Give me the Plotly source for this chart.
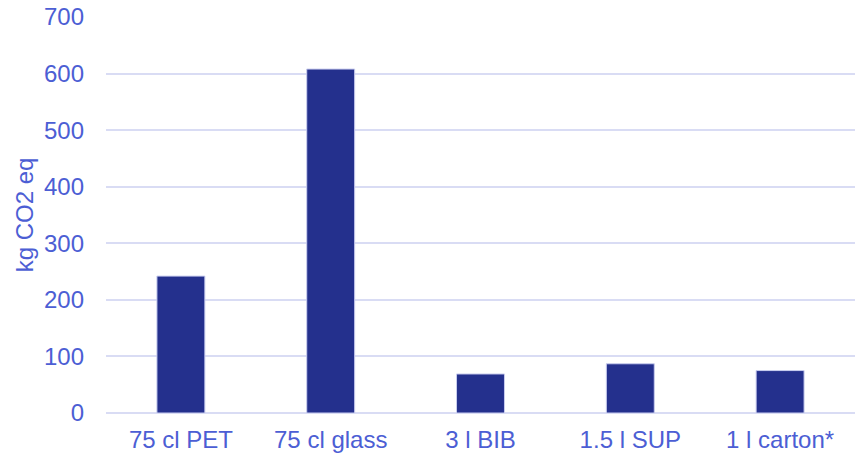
import plotly.graph_objects as go

packaging = ["75 cl PET", "75 cl glass", "3 l BIB", "1.5 l SUP", "1 l carton*"]
emissions = [242, 608, 69, 87, 75]
y_ticks = [0, 100, 200, 300, 400, 500, 600, 700]

text_color = "#4c5ed4"
grid_color = "#d9dcf4"
font_size = 24

fig = go.Figure(
    go.Bar(
        x=packaging,
        y=emissions,
        width=0.32,
        marker=dict(color="#24308d", line=dict(color="#c9cdef", width=1)),
    )
)

fig.update_layout(
    width=855,
    height=457,
    margin=dict(l=106, r=0, t=17, b=44),
    plot_bgcolor="white",
    paper_bgcolor="white",
    font=dict(family="Liberation Sans, Arial, sans-serif", size=font_size, color=text_color),
    showlegend=False,
)

fig.update_xaxes(
    showgrid=False,
    showline=False,
    ticks="",
    ticklabelstandoff=10,
    tickfont=dict(size=font_size, color=text_color),
)

fig.update_yaxes(
    range=[0, 700],
    tickvals=y_ticks,
    showgrid=True,
    gridcolor=grid_color,
    gridwidth=1.5,
    zeroline=True,
    zerolinecolor=grid_color,
    zerolinewidth=1.5,
    ticks="",
    ticklabelstandoff=21,
    title=dict(text="kg CO2 eq", font=dict(size=font_size, color=text_color), standoff=3),
    tickfont=dict(size=font_size, color=text_color),
)

fig.write_html("out.html")
